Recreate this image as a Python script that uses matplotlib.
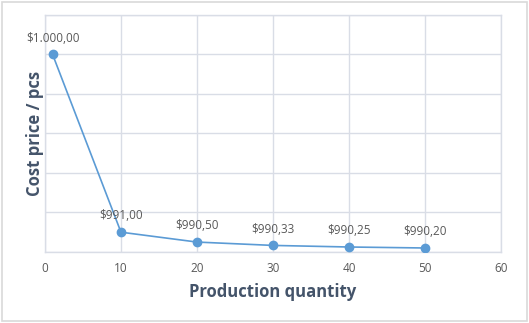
import matplotlib.pyplot as plt
from matplotlib.patches import FancyBboxPatch

quantity = [1, 10, 20, 30, 40, 50]
cost_price = [1000.00, 991.00, 990.50, 990.33, 990.25, 990.20]
price_labels = ['$1.000,00', '$991,00', '$990,50', '$990,33', '$990,25', '$990,20']
x_ticks = [0, 10, 20, 30, 40, 50, 60]

plt.rcParams['font.family'] = ['Open Sans', 'DejaVu Sans']

fig = plt.figure(figsize=(5.29, 3.23), dpi=100)
ax = fig.add_axes([0.085, 0.22, 0.862, 0.734])

# light frame round the whole chart
fig.patches.append(FancyBboxPatch((0.004, 0.006), 0.992, 0.988, boxstyle='square,pad=0',
                                  transform=fig.transFigure, fill=False,
                                  edgecolor='#d9d9d9', linewidth=1.2))

ax.plot(quantity, cost_price, color='#5b9bd5', linewidth=1.2, marker='o',
        markersize=6, markerfacecolor='#5b9bd5', markeredgecolor='#5b9bd5', zorder=3)

for x, y, lab in zip(quantity, cost_price, price_labels):
    ax.annotate(lab, (x, y), xytext=(0, 7), textcoords='offset points',
                ha='center', va='bottom', fontsize=8.5, color='#595959')

ax.set_xlim(0, 60)
ax.set_ylim(990, 1002)
ax.set_xticks(x_ticks)
ax.set_yticks([990, 992, 994, 996, 998, 1000, 1002])
ax.set_yticklabels([])
ax.tick_params(axis='both', length=0, labelsize=8.5, labelcolor='#595959', pad=7)
ax.grid(True, color='#d9dde6', linewidth=1)
ax.set_axisbelow(True)
for s in ax.spines.values():
    s.set_color('#d9dde6')
    s.set_linewidth(1)

ax.set_xlabel('Production quantity', fontsize=12, fontweight='bold', color='#44546a', labelpad=6)
ax.set_ylabel('Cost price / pcs', fontsize=12, fontweight='bold', color='#44546a')
ax.yaxis.set_label_coords(-0.002, 0.5)

fig.savefig('out.png', dpi=100)
